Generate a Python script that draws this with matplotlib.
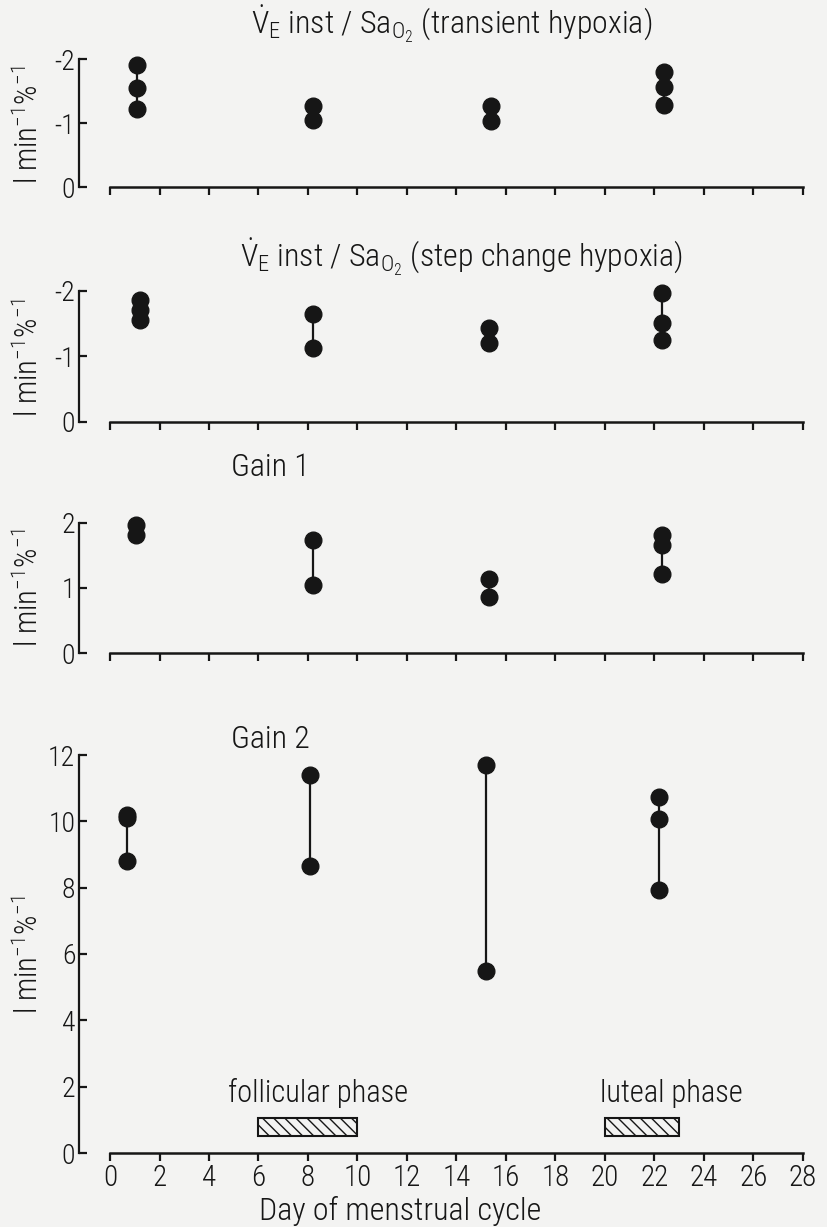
import matplotlib
matplotlib.use("Agg")
import matplotlib.pyplot as plt
from matplotlib import font_manager

# ---------------- data ----------------
day_ticks = list(range(0, 29, 2))

transient_days = [1.1, 8.2, 15.4, 22.4]
transient_vals = [[-1.90, -1.55, -1.22], [-1.27, -1.04], [-1.26, -1.03], [-1.79, -1.56, -1.28]]

step_days = [1.2, 8.2, 15.3, 22.3]
step_vals = [[-1.86, -1.71, -1.56], [-1.65, -1.13], [-1.44, -1.21], [-1.97, -1.51, -1.25]]

gain1_days = [1.05, 8.2, 15.3, 22.3]
gain1_vals = [[1.97, 1.81], [1.74, 1.04], [1.14, 0.86], [1.82, 1.66, 1.22]]

gain2_days = [0.7, 8.1, 15.2, 22.2]
gain2_vals = [[10.2, 10.1, 8.8], [11.4, 8.65], [11.7, 5.5], [10.72, 10.06, 7.94]]

phase_names = ["follicular phase", "luteal phase"]
phase_start = [6, 20]
phase_end = [10, 23]

# ---------------- fonts ----------------
fam_names = {f.name for f in font_manager.fontManager.ttflist}
FAMILY = "Roboto Condensed" if "Roboto Condensed" in fam_names else "DejaVu Sans"

plt.rcParams["font.family"] = [FAMILY, "DejaVu Sans"]
plt.rcParams["font.weight"] = "light"
plt.rcParams["mathtext.fontset"] = "custom"
plt.rcParams["mathtext.rm"] = FAMILY + ":light"
plt.rcParams["mathtext.it"] = FAMILY + ":light"
plt.rcParams["mathtext.default"] = "regular"

INK = "#161616"
BG = "#f3f3f2"

W, H = 827, 1227
fig = plt.figure(figsize=(W / 100, H / 100), dpi=100, facecolor=BG)

XL, XR = 110, 803


def make_ax(top_px, bot_px):
    return fig.add_axes([XL / W, 1 - bot_px / H, (XR - XL) / W, (bot_px - top_px) / H])


ytick_fs = 20
xtick_fs = 21
title_fs = 23
ylab_fs = 22


def style(ax, ylim, yticks, ylabels, show_x):
    ax.set_facecolor("none")
    ax.set_xlim(0, 28)
    ax.set_ylim(*ylim)
    for s in ["top", "right"]:
        ax.spines[s].set_visible(False)
    ax.spines["left"].set_position(("outward", 22))
    ax.spines["left"].set_linewidth(1.6)
    ax.spines["bottom"].set_linewidth(1.8)
    ax.spines["left"].set_color(INK)
    ax.spines["bottom"].set_color(INK)
    ax.set_xticks(day_ticks)
    ax.set_yticks(yticks)
    ax.set_yticklabels(ylabels)
    ax.tick_params(axis="y", direction="in", length=6, width=1.6, colors=INK,
                   labelsize=ytick_fs, pad=3)
    ax.tick_params(axis="x", direction="out", length=6, width=1.6, colors=INK,
                   labelsize=xtick_fs, pad=2, labelbottom=show_x)
    ax.spines["bottom"].set_bounds(0, 28)


def plot_groups(ax, days, vals):
    for d, v in zip(days, vals):
        ax.plot([d] * len(v), v, color=INK, lw=1.6, zorder=2, clip_on=False)
        ax.plot([d] * len(v), v, "o", color=INK, ms=12, mec=INK, zorder=3, clip_on=False)


ylabel = "l min$^{-1}$%$^{-1}$"

# Panel 1
ax1 = make_ax(59, 187)
plot_groups(ax1, transient_days, transient_vals)
style(ax1, (0, -2), [0, -1, -2], ["0", "-1", "-2"], False)

# Panel 2
ax2 = make_ax(291, 422)
plot_groups(ax2, step_days, step_vals)
style(ax2, (0, -2), [0, -1, -2], ["0", "-1", "-2"], False)

# Panel 3
ax3 = make_ax(523, 653)
plot_groups(ax3, gain1_days, gain1_vals)
style(ax3, (0, 2), [0, 1, 2], ["0", "1", "2"], False)

# Panel 4
ax4 = make_ax(755, 1153)
plot_groups(ax4, gain2_days, gain2_vals)
style(ax4, (0, 12), list(range(0, 13, 2)), [str(v) for v in range(0, 13, 2)], True)
ax4.set_xticklabels([str(v) for v in day_ticks])

label_shift = [0.4, 1.2]
for name, s, e, sh in zip(phase_names, phase_start, phase_end, label_shift):
    ax4.bar(s, 0.55, width=e - s, bottom=0.5, align="edge", facecolor="none",
            edgecolor=INK, hatch="\\\\\\", linewidth=1.5)
    ax4.text((s + e) / 2 + sh, 1.35, name, ha="center", va="bottom",
             fontsize=22, color=INK)

fig.text(400 / W, 1 - 1220 / H, "Day of menstrual cycle", ha="center", va="baseline",
         fontsize=23, color=INK)

# Titles
fig.text(452 / W, 1 - 24 / H, r"$\dot{V}_E$ inst / Sa$_{O_2}$ (transient hypoxia)",
         ha="center", va="center", fontsize=title_fs, color=INK)
fig.text(462 / W, 1 - 257 / H, r"$\dot{V}_E$ inst / Sa$_{O_2}$ (step change hypoxia)",
         ha="center", va="center", fontsize=title_fs, color=INK)
fig.text(270 / W, 1 - 467 / H, "Gain 1", ha="center", va="center",
         fontsize=title_fs, color=INK)
fig.text(270 / W, 1 - 740 / H, "Gain 2", ha="center", va="center",
         fontsize=title_fs, color=INK)

# Y labels
for yc in [125, 358, 588, 955]:
    fig.text(28 / W, 1 - yc / H, ylabel, rotation=90, ha="center", va="center",
             fontsize=ylab_fs, color=INK)

fig.savefig("out.png", dpi=100, facecolor=BG)
